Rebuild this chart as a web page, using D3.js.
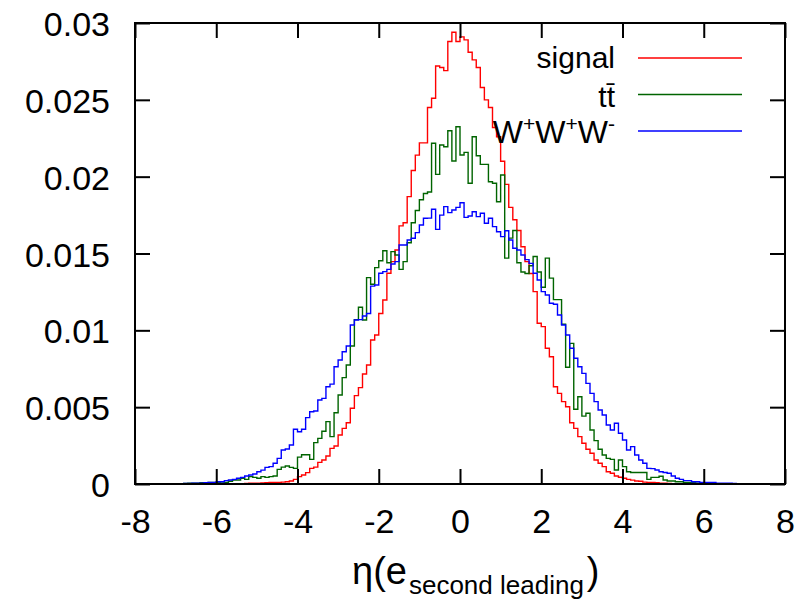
<!DOCTYPE html>
<html>
<head>
<meta charset="utf-8">
<script src="https://cdn.jsdelivr.net/npm/d3@7"></script>
<style>
  body { margin: 0; background: #ffffff; }
  svg { display: block; font-family: "Liberation Sans", Arial, Helvetica, sans-serif; }
</style>
</head>
<body>
<svg id="chart" width="810" height="602"></svg>
<script>
// Histogram bins: lower edge of first bin and bin width (eta units)
const binStart = -7.0;
const binWidth = 0.1;

// Normalised counts per bin, bins -7.0 .. 6.9
const signalValues = [
  0, 0, 0, 0, 0, 0, 0, 0, 0, 0,
  0, 0, 0, 0, 0, 0, 0.00002, 0.00003, 0.00005, 0.00005,
  0.00006, 0.00007, 0.00008, 0.0001, 0.0001, 0.0001, 0.00012, 0.00015, 0.0002, 0.0003,
  0.00048, 0.00059, 0.00074, 0.00102, 0.0011, 0.00141, 0.00156, 0.00182, 0.00232, 0.00247,
  0.00319, 0.00362, 0.00399, 0.00493, 0.00575, 0.00627, 0.00716, 0.00774, 0.00937, 0.0097,
  0.0111, 0.01197, 0.01371, 0.01447, 0.01523, 0.0168, 0.0170, 0.0187, 0.0204, 0.0214,
  0.0222, 0.0222, 0.0245, 0.0251, 0.0272, 0.0271, 0.0269, 0.0288, 0.0294, 0.0288,
  0.0291, 0.0289, 0.0281, 0.0276, 0.0271, 0.0258, 0.0250, 0.0245, 0.0232, 0.0226,
  0.0210, 0.0195, 0.0180, 0.0172, 0.0165, 0.01544, 0.01447, 0.0137, 0.01252, 0.01046,
  0.01024, 0.00883, 0.00828, 0.00633, 0.0059, 0.00536, 0.00503, 0.00399, 0.00362, 0.00308,
  0.00265, 0.00226, 0.002, 0.00156, 0.00135, 0.00113, 0.0008, 0.0007, 0.00052, 0.00044,
  0.00037, 0.0003, 0.00025, 0.0002, 0.00018, 0.00012, 0.0001, 0.0001, 0.00008, 0.00006,
  0.00005, 0.00003, 0.00002, 0, 0, 0, 0, 0, 0, 0,
  0, 0, 0, 0, 0, 0, 0, 0, 0, 0
];

const ttbarValues = [
  0, 0, 0.00003, 0.00005, 0.00005, 0.00005, 0.00008, 0.00005, 0.0001, 0.0001,
  0.0001, 0.00013, 0.0001, 0.00018, 0.00026, 0.00026, 0.00037, 0.0003, 0.00048, 0.00043,
  0.00037, 0.00048, 0.00043, 0.00048, 0.00052, 0.00095, 0.0011, 0.00117, 0.00108, 0.00102,
  0.00175, 0.0019, 0.0019, 0.0016, 0.00269, 0.00297, 0.00343, 0.00406, 0.00308, 0.00464,
  0.00579, 0.00692, 0.00774, 0.00898, 0.0107, 0.0115, 0.01067, 0.01343, 0.013, 0.01408,
  0.01453, 0.01518, 0.0144, 0.01512, 0.0149, 0.01397, 0.01447, 0.0157, 0.0170, 0.0178,
  0.0185, 0.0189, 0.0190, 0.02217, 0.02015, 0.02206, 0.02195, 0.02299, 0.02102, 0.02325,
  0.02141, 0.02158, 0.01957, 0.0226, 0.02136, 0.0208, 0.0208, 0.01967, 0.01957, 0.01837,
  0.02011, 0.0147, 0.0160, 0.0165, 0.0144, 0.0138, 0.0137, 0.0142, 0.0148, 0.0138,
  0.0128, 0.0147, 0.0134, 0.0120, 0.0120, 0.0104, 0.0076, 0.00915, 0.00486, 0.00568,
  0.00442, 0.0046, 0.00351, 0.00282, 0.00226, 0.00189, 0.00167, 0.0016, 0.00091, 0.00156,
  0.00113, 0.0008, 0.00075, 0.00075, 0.00075, 0.00075, 0.0003, 0.00043, 0.00043, 0.0005,
  0.00026, 0.0002, 0.0002, 0.00015, 0.00015, 0.0001, 0.0001, 0.00008, 0.00005, 0.00005,
  0, 0, 0, 0, 0, 0, 0, 0, 0, 0
];

const wwwValues = [
  0, 0, 0.00003, 0.00004, 0.00005, 0.00006, 0.00006, 0.00008, 0.0001, 0.0001,
  0.00015, 0.00015, 0.00022, 0.00026, 0.0003, 0.00037, 0.00043, 0.00052, 0.00059, 0.00065,
  0.0008, 0.0009, 0.00108, 0.00113, 0.00135, 0.00167, 0.00221, 0.00228, 0.00254, 0.00356,
  0.0034, 0.00356, 0.00432, 0.0047, 0.00475, 0.00547, 0.00557, 0.00633, 0.0065, 0.00763,
  0.00807, 0.00861, 0.00898, 0.01035, 0.01067, 0.0107, 0.01093, 0.0111, 0.01288, 0.01295,
  0.01371, 0.01382, 0.01397, 0.01432, 0.01447, 0.01555, 0.01555, 0.01588, 0.01599, 0.01636,
  0.01685, 0.01729, 0.0173, 0.01788, 0.01657, 0.0175, 0.01805, 0.01766, 0.01783, 0.0180,
  0.0183, 0.01735, 0.01744, 0.01772, 0.0174, 0.01762, 0.01697, 0.01729, 0.01675, 0.01642,
  0.0161, 0.01648, 0.01588, 0.01534, 0.01523, 0.0149, 0.0146, 0.01436, 0.01371, 0.01328,
  0.01252, 0.0123, 0.01176, 0.0117, 0.011, 0.01035, 0.0097, 0.00883, 0.00818, 0.00763,
  0.0072, 0.00655, 0.0059, 0.00536, 0.00482, 0.00449, 0.00384, 0.00351, 0.00395, 0.0033,
  0.00286, 0.00221, 0.00243, 0.00189, 0.00156, 0.00135, 0.00102, 0.001, 0.00091, 0.0008,
  0.00075, 0.0007, 0.00052, 0.00037, 0.0003, 0.00022, 0.00022, 0.00015, 0.00015, 0.0001,
  0.0001, 0.0001, 0.0001, 0.00006, 0.00006, 0.00006, 0.00005, 0.00003, 0, 0
];

const xTicks = [-8, -6, -4, -2, 0, 2, 4, 6, 8];
const yTicks = [0, 0.005, 0.01, 0.015, 0.02, 0.025, 0.03];
const yTickLabels = ['0', '0.005', '0.01', '0.015', '0.02', '0.025', '0.03'];

const series = [
  { key: 'signal', values: signalValues, colour: '#ff0000' },
  { key: 'ttbar', values: ttbarValues, colour: '#006400' },
  { key: 'www', values: wwwValues, colour: '#0000ff' }
];

const margin = { left: 135, right: 785, top: 23, bottom: 484 };

const svg = d3.select('#chart');

const x = d3.scaleLinear().domain([-8, 8]).range([margin.left, margin.right]);
const y = d3.scaleLinear().domain([0, 0.03]).range([margin.bottom, margin.top]);

svg.append('rect')
  .attr('width', 810).attr('height', 602).attr('fill', '#ffffff');

// clip for histogram lines
svg.append('clipPath').attr('id', 'plot-clip')
  .append('rect')
  .attr('x', margin.left).attr('y', margin.top)
  .attr('width', margin.right - margin.left)
  .attr('height', margin.bottom - margin.top);

// step outline of a histogram, trimmed of empty bins at both ends
function stepPoints(values) {
  const first = values.findIndex(v => v > 0);
  let last = values.length - 1;
  while (last > 0 && !(values[last] > 0)) last--;
  const pts = [[binStart + first * binWidth, 0]];
  for (let i = first; i <= last; i++) {
    pts.push([binStart + i * binWidth, values[i]]);
  }
  pts.push([binStart + (last + 1) * binWidth, values[last]]);
  pts.push([binStart + (last + 1) * binWidth, 0]);
  return pts;
}

const line = d3.line()
  .x(d => x(d[0]))
  .y(d => y(d[1]))
  .curve(d3.curveStepAfter);

const curves = svg.append('g').attr('clip-path', 'url(#plot-clip)');
curves.selectAll('path.hist')
  .data(series)
  .enter()
  .append('path')
  .attr('class', 'hist')
  .attr('d', d => line(stepPoints(d.values)))
  .attr('fill', 'none')
  .attr('stroke', d => d.colour)
  .attr('stroke-width', 1.4)
  .attr('stroke-linejoin', 'miter');

// axes: inward ticks on all four sides
const tickLen = 15;
const fontSize = 34;

const xAxis = svg.append('g')
  .attr('transform', `translate(0,${margin.bottom})`)
  .call(d3.axisBottom(x).tickValues(xTicks).tickSize(-tickLen).tickPadding(25)
    .tickFormat(d => String(d)));
svg.append('g')
  .attr('transform', `translate(0,${margin.top})`)
  .call(d3.axisTop(x).tickValues(xTicks).tickSize(-tickLen).tickFormat(''));

const yAxis = svg.append('g')
  .attr('transform', `translate(${margin.left},0)`)
  .call(d3.axisLeft(y).tickValues(yTicks).tickSize(-tickLen).tickPadding(25)
    .tickFormat((d, i) => yTickLabels[i]));
svg.append('g')
  .attr('transform', `translate(${margin.right},0)`)
  .call(d3.axisRight(y).tickValues(yTicks).tickSize(-tickLen).tickFormat(''));

svg.selectAll('.domain').remove();
svg.selectAll('.tick line').attr('stroke', '#000').attr('stroke-width', 2);
svg.selectAll('.tick text')
  .attr('fill', '#000')
  .attr('font-size', fontSize)
  .attr('font-family', '"Liberation Sans", Arial, sans-serif');
yAxis.selectAll('.tick text').attr('dy', '0.37em');
xAxis.selectAll('.tick text').attr('dy', '0.72em');

// border
svg.append('rect')
  .attr('x', margin.left).attr('y', margin.top)
  .attr('width', margin.right - margin.left)
  .attr('height', margin.bottom - margin.top)
  .attr('fill', 'none')
  .attr('stroke', '#000')
  .attr('stroke-width', 2);

// x-axis title: eta(e_{second leading}), pieces laid side by side
const titleBase = 584;
const titleMain = svg.append('text')
  .attr('x', 352).attr('y', titleBase)
  .attr('font-size', 38).attr('fill', '#000')
  .text('η(e');
let tx = 352 + titleMain.node().getComputedTextLength() + 2;
const titleSub = svg.append('text')
  .attr('x', tx).attr('y', titleBase + 10)
  .attr('font-size', 26).attr('fill', '#000')
  .text('second leading');
tx += titleSub.node().getComputedTextLength() + 3;
svg.append('text')
  .attr('x', tx).attr('y', titleBase)
  .attr('font-size', 38).attr('fill', '#000')
  .text(')');

// legend
const legendItems = [
  { label: 'signal', colour: '#ff0000', ly: 58, ty: 68 },
  { label: 'tt̄', colour: '#006400', ly: 94.5, ty: 107 },
  { label: 'www', colour: '#0000ff', ly: 131, ty: 143 }
];

const legend = svg.append('g').attr('font-size', 30);
legendItems.forEach(item => {
  legend.append('line')
    .attr('x1', 638).attr('x2', 742)
    .attr('y1', item.ly).attr('y2', item.ly)
    .attr('stroke', item.colour)
    .attr('stroke-width', 1.4);
  const t = legend.append('text')
    .attr('x', 615).attr('y', item.ty)
    .attr('text-anchor', 'end')
    .attr('fill', '#000');
  if (item.label === 'www') {
    t.attr('font-size', 32);
    t.append('tspan').text('W');
    t.append('tspan').attr('font-size', 21).attr('dy', -12).text('+');
    t.append('tspan').attr('dy', 12).text('W');
    t.append('tspan').attr('font-size', 21).attr('dy', -12).text('+');
    t.append('tspan').attr('dy', 12).text('W');
    t.append('tspan').attr('font-size', 21).attr('dy', -12).text('-');
  } else {
    t.text(item.label);
  }
});
</script>
</body>
</html>
